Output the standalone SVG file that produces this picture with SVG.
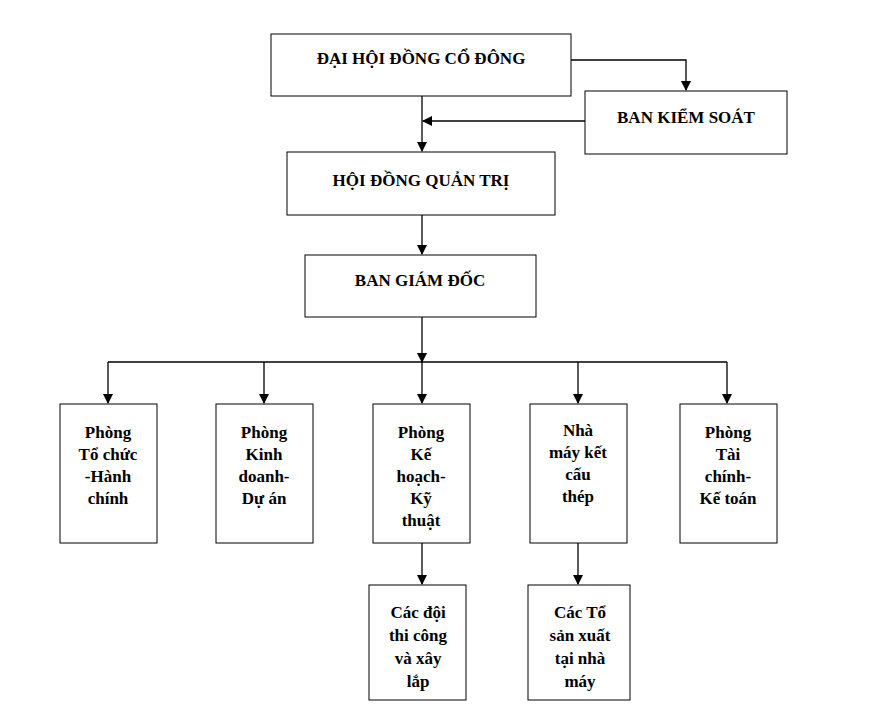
<svg xmlns="http://www.w3.org/2000/svg" width="875" height="717" viewBox="0 0 875 717">
<style>
rect{fill:#fff;stroke:#000;stroke-width:1}
text{font-family:"Liberation Serif",serif;font-weight:bold;font-size:17px;text-anchor:middle;fill:#000}
.c line,.c polyline{stroke:#000;stroke-width:1.3;fill:none}
</style>
<defs><marker id="a" markerWidth="10" markerHeight="10" refX="9" refY="5" orient="auto" markerUnits="userSpaceOnUse"><path d="M0,0L10,5L0,10z" fill="#000"/></marker></defs>
<rect width="875" height="717" style="stroke:none"/>
<g class="c">
<polyline points="571,60 686,60 686,90" marker-end="url(#a)"/>
<line x1="422" y1="96" x2="422" y2="151" marker-end="url(#a)"/>
<line x1="585" y1="121" x2="423" y2="121" marker-end="url(#a)"/>
<line x1="422" y1="215" x2="422" y2="254" marker-end="url(#a)"/>
<line x1="422" y1="317" x2="422" y2="362" marker-end="url(#a)"/>
<line x1="108" y1="362" x2="727" y2="362"/>
<line x1="108" y1="362" x2="108" y2="403" marker-end="url(#a)"/>
<line x1="264" y1="362" x2="264" y2="403" marker-end="url(#a)"/>
<line x1="422" y1="362" x2="422" y2="403" marker-end="url(#a)"/>
<line x1="578" y1="362" x2="578" y2="403" marker-end="url(#a)"/>
<line x1="727" y1="362" x2="727" y2="403" marker-end="url(#a)"/>
<line x1="422" y1="543" x2="422" y2="584" marker-end="url(#a)"/>
<line x1="578" y1="543" x2="578" y2="584" marker-end="url(#a)"/>
</g>
<g id="dhdcd"><rect x="271" y="34" width="300" height="62"/><text x="421" y="64">ĐẠI HỘI ĐỒNG CỔ ĐÔNG</text></g>
<g id="bks"><rect x="585" y="91" width="202" height="63"/><text x="686" y="123">BAN KIỂM SOÁT</text></g>
<g id="hdqt"><rect x="287" y="152" width="268" height="63"/><text x="421" y="186">HỘI ĐỒNG QUẢN TRỊ</text></g>
<g id="bgd"><rect x="305" y="255" width="231" height="62"/><text x="420" y="286">BAN GIÁM ĐỐC</text></g>
<g id="p1"><rect x="60" y="404" width="97" height="139"/><text x="108" y="438">Phòng</text><text x="108" y="460">Tổ chức</text><text x="108" y="482">-Hành</text><text x="108" y="504">chính</text></g>
<g id="p2"><rect x="216" y="404" width="97" height="139"/><text x="264" y="438">Phòng</text><text x="264" y="460">Kinh</text><text x="264" y="482">doanh-</text><text x="264" y="504">Dự án</text></g>
<g id="p3"><rect x="373" y="404" width="97" height="139"/><text x="421" y="438">Phòng</text><text x="421" y="460">Kế</text><text x="421" y="482">hoạch-</text><text x="421" y="504">Kỹ</text><text x="421" y="526">thuật</text></g>
<g id="p4"><rect x="530" y="404" width="97" height="139"/><text x="578" y="436">Nhà</text><text x="578" y="458">máy kết</text><text x="578" y="480">cấu</text><text x="578" y="502">thép</text></g>
<g id="p5"><rect x="680" y="404" width="97" height="139"/><text x="728" y="438">Phòng</text><text x="728" y="460">Tài</text><text x="728" y="482">chính-</text><text x="728" y="504">Kế toán</text></g>
<g id="s1"><rect x="369" y="585" width="97" height="115"/><text x="418" y="618">Các đội</text><text x="418" y="641">thi công</text><text x="418" y="664">và xây</text><text x="418" y="687">lắp</text></g>
<g id="s2"><rect x="528" y="585" width="102" height="115"/><text x="580" y="618">Các Tổ</text><text x="580" y="641">sản xuất</text><text x="580" y="664">tại nhà</text><text x="580" y="687">máy</text></g>
</svg>
